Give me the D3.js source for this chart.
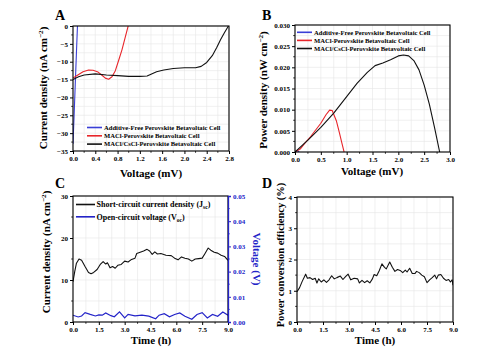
<!DOCTYPE html>
<html>
<head>
<meta charset="utf-8">
<script src="https://cdn.jsdelivr.net/npm/d3@7"></script>
<style>
  body { margin: 0; background: #fff; }
  text { font-family: "Liberation Serif", "Times New Roman", serif; font-weight: bold; }
</style>
</head>
<body>
<div id="wrapper"></div>
<script>
// ---- data ----
const legendA = ["Additive-Free Perovskite Betavoltaic Cell", "MACl-Perovskite Betavoltaic Cell", "MACl/CsCl-Perovskite Betavoltaic Cell"];
const seriesColors = ["#3a3fd6", "#e8262b", "#111111"];

// J-V curves: [voltage mV, current density nA cm-2]
const jvFree = [[0, -33], [0.02, -25], [0.04, -16.5], [0.06, -8.2], [0.08, 0]];
const jvMACl = [[0, -14.6], [0.08, -13.8], [0.18, -12.8], [0.28, -12.3], [0.36, -12.4], [0.45, -12.9], [0.52, -13.8],
  [0.58, -14.6], [0.64, -14.9], [0.7, -14.2], [0.76, -12.5], [0.82, -9.6], [0.88, -6.6], [0.93, -3.6], [0.99, 0]];
const jvCsCl = [[0, -15], [0.1, -14.2], [0.2, -13.7], [0.4, -13.4], [0.6, -13.7], [0.8, -13.9], [1.0, -14.1], [1.2, -14.1],
  [1.33, -14.0], [1.4, -13.5], [1.5, -12.8], [1.63, -12.3], [1.8, -11.9], [2.0, -11.7], [2.2, -11.7], [2.3, -11.3],
  [2.4, -10.2], [2.5, -8.3], [2.58, -6.0], [2.65, -3.8], [2.72, -1.8], [2.79, 0]];

// P-V curves: [voltage mV, power density nW cm-2]
const pvFree = [[0, 0], [0.04, 0.0004], [0.08, 0]];
const pvMACl = [[0, 0], [0.1, 0.0007], [0.2, 0.0022], [0.3, 0.0036], [0.4, 0.0052], [0.5, 0.0068], [0.6, 0.0088],
  [0.67, 0.0099], [0.72, 0.0098], [0.8, 0.0074], [0.86, 0.0045], [0.91, 0.002], [0.95, 0]];
const pvCsCl = [[0, 0], [0.25, 0.0028], [0.5, 0.0058], [0.75, 0.0092], [1.0, 0.0131], [1.2, 0.0162], [1.4, 0.0188],
  [1.55, 0.0204], [1.7, 0.021], [1.85, 0.0218], [2.0, 0.0227], [2.1, 0.0229], [2.2, 0.0227], [2.3, 0.0216],
  [2.4, 0.0194], [2.5, 0.0158], [2.6, 0.0113], [2.7, 0.0058], [2.8, 0]];

// stability: [time h, Jsc nA cm-2]
const jscData = [[0, 9.6], [0.1, 12], [0.2, 14], [0.35, 15], [0.5, 14.7], [0.7, 13.2], [0.9, 11.8], [1.05, 11.5], [1.2, 11.8],
  [1.4, 12.5], [1.6, 13.8], [1.75, 14.4], [1.9, 13.8], [2.0, 14.1], [2.15, 12.9], [2.3, 13.2], [2.45, 12.8], [2.6, 13.5],
  [2.8, 13.7], [3.0, 14.5], [3.2, 14.3], [3.4, 14.9], [3.6, 15.2], [3.7, 16.3], [3.9, 16.6], [4.1, 16.9], [4.3, 17.3],
  [4.45, 16.9], [4.6, 16.1], [4.75, 16.7], [4.9, 16.2], [5.1, 16.3], [5.4, 15.9], [5.7, 15.8], [5.9, 15.2], [6.1, 14.8],
  [6.3, 15.5], [6.5, 15.2], [6.7, 15.0], [6.9, 14.5], [7.1, 15.0], [7.3, 15.1], [7.5, 15.2], [7.65, 16.2], [7.85, 17.6],
  [8.0, 17.1], [8.2, 16.6], [8.4, 16.4], [8.6, 15.9], [8.8, 15.6], [9.0, 14.7]];
// [time h, Voc V]
const vocData = [[0, 0.0027], [0.3, 0.002], [0.5, 0.0024], [0.7, 0.0037], [1.0, 0.003], [1.3, 0.0024], [1.5, 0.0028],
  [1.7, 0.0027], [1.9, 0.0036], [2.2, 0.0025], [2.4, 0.0021], [2.7, 0.004], [3.0, 0.0016], [3.2, 0.003], [3.6, 0.0024],
  [4.0, 0.0027], [4.4, 0.0023], [4.8, 0.0013], [5.0, 0.0027], [5.3, 0.0033], [5.6, 0.0021], [5.9, 0.003], [6.2, 0.0036],
  [6.5, 0.0023], [6.9, 0.0011], [7.2, 0.003], [7.5, 0.0037], [7.8, 0.0016], [8.1, 0.003], [8.4, 0.0023], [8.7, 0.004], [9.0, 0.0027]];
const legendC = ["Short-circuit current density (J", "Open-circuit voltage (V"];

// [time h, PCE %]
const pceData = [[0, 0.97], [0.15, 1.1], [0.3, 1.3], [0.5, 1.53], [0.6, 1.4], [0.75, 1.42], [0.9, 1.36], [1.05, 1.4], [1.15, 1.25],
  [1.25, 1.38], [1.4, 1.28], [1.55, 1.35], [1.7, 1.27], [1.85, 1.35], [2.0, 1.48], [2.15, 1.38], [2.3, 1.42], [2.5, 1.47],
  [2.65, 1.36], [2.8, 1.45], [2.95, 1.53], [3.1, 1.35], [3.3, 1.4], [3.5, 1.38], [3.6, 1.25], [3.75, 1.33], [3.9, 1.26],
  [4.05, 1.32], [4.2, 1.25], [4.35, 1.38], [4.45, 1.52], [4.6, 1.48], [4.75, 1.65], [4.9, 1.86], [5.05, 1.75], [5.15, 1.7],
  [5.35, 1.92], [5.5, 1.75], [5.65, 1.62], [5.8, 1.68], [5.95, 1.65], [6.1, 1.58], [6.25, 1.66], [6.35, 1.6], [6.5, 1.72],
  [6.65, 1.55], [6.8, 1.55], [6.9, 1.62], [7.05, 1.58], [7.2, 1.5], [7.35, 1.45], [7.5, 1.26], [7.65, 1.35], [7.8, 1.42],
  [7.95, 1.5], [8.05, 1.38], [8.15, 1.5], [8.3, 1.52], [8.45, 1.4], [8.6, 1.33], [8.75, 1.36], [8.85, 1.28], [8.95, 1.35], [9.0, 1.18]];

const xTicksV28 = [0, 0.4, 0.8, 1.2, 1.6, 2.0, 2.4, 2.8];
const yTicksJ = [0, -5, -10, -15, -20, -25, -30, -35];
const xTicksV3 = [0, 0.5, 1.0, 1.5, 2.0, 2.5, 3.0];
const yTicksP = [0, 0.005, 0.01, 0.015, 0.02, 0.025, 0.03];
const xTicksT = [0, 1.5, 3.0, 4.5, 6.0, 7.5, 9.0];
const yTicksJsc = [0, 10, 20, 30];
const yTicksVoc = [0, 0.01, 0.02, 0.03, 0.04, 0.05];
const yTicksPce = [0, 1, 2, 3, 4];

// ---- drawing ----
const svg = d3.select("#wrapper").append("svg")
  .attr("width", 492)
  .attr("height", 350);

const line = (x, y) => d3.line().x(d => x(d[0])).y(d => y(d[1]));

function panel(box, xDomain, yDomain, xTicks, yTicks, xFmt, yFmt, xMinor, yMinor) {
  const x = d3.scaleLinear().domain(xDomain).range([box.left, box.right]);
  const y = d3.scaleLinear().domain(yDomain).range([box.bottom, box.top]);
  const g = svg.append("g");

  // grid
  const grid = g.append("g").attr("stroke", "#e6e6e6").attr("stroke-width", 0.6);
  grid.selectAll(".gx").data(xMinor).join("line")
    .attr("x1", d => x(d)).attr("x2", d => x(d)).attr("y1", box.top).attr("y2", box.bottom);
  grid.selectAll(".gy").data(yMinor).join("line")
    .attr("y1", d => y(d)).attr("y2", d => y(d)).attr("x1", box.left).attr("x2", box.right);

  g.append("g")
    .attr("transform", `translate(0,${box.bottom})`)
    .call(d3.axisBottom(x).tickValues(xTicks).tickFormat(xFmt).tickSize(3).tickPadding(2))
    .call(a => a.select(".domain").remove())
    .selectAll("text").attr("font-size", 7).attr("font-family", "Liberation Serif").attr("font-weight", "bold");
  g.append("g")
    .attr("transform", `translate(${box.left},0)`)
    .call(d3.axisLeft(y).tickValues(yTicks).tickFormat(yFmt).tickSize(3).tickPadding(2))
    .call(a => a.select(".domain").remove())
    .selectAll("text").attr("font-size", 7).attr("font-family", "Liberation Serif").attr("font-weight", "bold");

  // minor ticks
  g.append("g").attr("stroke", "#000").attr("stroke-width", 0.8)
    .selectAll("line").data(xMinor.filter(v => !xTicks.includes(v))).join("line")
    .attr("x1", d => x(d)).attr("x2", d => x(d)).attr("y1", box.bottom).attr("y2", box.bottom + 1.8);
  g.append("g").attr("stroke", "#000").attr("stroke-width", 0.8)
    .selectAll("line").data(yMinor.filter(v => !yTicks.includes(v))).join("line")
    .attr("y1", d => y(d)).attr("y2", d => y(d)).attr("x1", box.left).attr("x2", box.left - 1.8);

  const clipId = "clip" + Math.round(box.left) + "_" + Math.round(box.top);
  svg.append("clipPath").attr("id", clipId).append("rect")
    .attr("x", box.left).attr("y", box.top)
    .attr("width", box.right - box.left).attr("height", box.bottom - box.top);
  const plot = g.append("g").attr("clip-path", `url(#${clipId})`);

  const frame = () => g.append("rect")
    .attr("x", box.left).attr("y", box.top)
    .attr("width", box.right - box.left).attr("height", box.bottom - box.top)
    .attr("fill", "none").attr("stroke", "#000").attr("stroke-width", 1.1);

  return { x, y, g, plot, frame };
}

function drawLines(p, list, colors, width) {
  list.forEach((data, i) => {
    p.plot.append("path")
      .datum(data)
      .attr("d", line(p.x, p.y))
      .attr("fill", "none")
      .attr("stroke", colors[i])
      .attr("stroke-width", width)
      .attr("stroke-linejoin", "round");
  });
}

function legend(x0, y0, dy, len, labels, colors, size) {
  labels.forEach((label, i) => {
    svg.append("line")
      .attr("x1", x0).attr("x2", x0 + len)
      .attr("y1", y0 + i * dy).attr("y2", y0 + i * dy)
      .attr("stroke", colors[i]).attr("stroke-width", 1.6);
    svg.append("text")
      .attr("x", x0 + len + 2).attr("y", y0 + i * dy + size * 0.35)
      .attr("font-size", size)
      .text(label);
  });
}

function ylabel(x, y, size, parts, color) {
  const t = svg.append("text")
    .attr("transform", `translate(${x},${y}) rotate(-90)`)
    .attr("text-anchor", "middle")
    .attr("font-size", size)
    .attr("fill", color || "#000");
  t.append("tspan").text(parts[0]);
  t.append("tspan").attr("dy", -4).attr("font-size", size * 0.65).text(parts[1]);
  t.append("tspan").attr("dy", 4).text(parts[2]);
  return t;
}

function xlabel(x, y, text) {
  svg.append("text").attr("x", x).attr("y", y)
    .attr("text-anchor", "middle").attr("font-size", 11).text(text);
}

function letter(x, y, text) {
  svg.append("text").attr("x", x).attr("y", y).attr("font-size", 14).text(text);
}

const f1 = d3.format(".1f");

// ---- A ----
const pA = panel({ left: 73, right: 229, top: 26, bottom: 151 }, [0, 2.8], [-35, 0],
  xTicksV28, yTicksJ, f1, d3.format("d"),
  d3.range(0, 2.81, 0.2).map(v => +v.toFixed(1)), d3.range(-35, 0.1, 2.5));
drawLines(pA, [jvFree, jvMACl, jvCsCl], seriesColors, 1.1);
pA.frame();
legend(87, 127.5, 8.3, 15, legendA, seriesColors, 6.6);
ylabel(47, 88, 11, ["Current density (nA cm", "\u22122", ")"]);
xlabel(151, 177, "Voltage (mV)");
letter(55, 20, "A");

// ---- B ----
const pB = panel({ left: 295, right: 450, top: 25, bottom: 152 }, [0, 3], [0, 0.03],
  xTicksV3, yTicksP, f1, d3.format(".3f"),
  d3.range(0, 3.01, 0.25).map(v => +v.toFixed(2)), d3.range(0, 0.0301, 0.0025).map(v => +v.toFixed(4)));
drawLines(pB, [pvFree, pvMACl, pvCsCl], seriesColors, 1.1);
pB.frame();
legend(297, 32.3, 8.1, 15, legendA, seriesColors, 6.6);
ylabel(267, 90, 11, ["Power density (nW cm", "\u22122", ")"]);
xlabel(372, 175, "Voltage (mV)");
letter(262, 20, "B");

// ---- C ----
const boxC = { left: 73, right: 228, top: 196, bottom: 322 };
const pC = panel(boxC, [0, 9], [0, 30],
  xTicksT, yTicksJsc, f1, d3.format("d"),
  d3.range(0, 9.01, 0.75).map(v => +v.toFixed(2)), d3.range(0, 30.1, 5));
const yVoc = d3.scaleLinear().domain([0, 0.05]).range([boxC.bottom, boxC.top]);
pC.plot.append("path").datum(vocData)
  .attr("d", line(pC.x, yVoc))
  .attr("fill", "none").attr("stroke", "#2323c8").attr("stroke-width", 1.2);
drawLines(pC, [jscData], ["#111"], 1.1);
pC.frame();
const rightAxis = svg.append("g")
  .attr("transform", `translate(${boxC.right},0)`)
  .call(d3.axisRight(yVoc).tickValues(yTicksVoc).tickFormat(d3.format(".2f")).tickSize(3).tickPadding(2));
rightAxis.select(".domain").attr("stroke", "#2323c8").attr("stroke-width", 1.3);
rightAxis.selectAll("line").attr("stroke", "#2323c8");
rightAxis.selectAll("text").attr("fill", "#2323c8").attr("font-size", 7)
  .attr("font-family", "Liberation Serif").attr("font-weight", "bold");
svg.append("g").attr("stroke", "#2323c8").attr("stroke-width", 0.8)
  .selectAll("line").data([0.005, 0.015, 0.025, 0.035, 0.045]).join("line")
  .attr("y1", d => yVoc(d)).attr("y2", d => yVoc(d)).attr("x1", boxC.right).attr("x2", boxC.right + 1.8);

// legend C with subscripts
legendC.forEach((label, i) => {
  const yy = 204.5 + i * 12.3;
  svg.append("line").attr("x1", 76).attr("x2", 95).attr("y1", yy).attr("y2", yy)
    .attr("stroke", i === 0 ? "#111" : "#2323c8").attr("stroke-width", 1.6);
  const t = svg.append("text").attr("x", 96.5).attr("y", yy + 2.8).attr("font-size", 8);
  t.append("tspan").text(label);
  t.append("tspan").attr("dy", 2).attr("font-size", 5.5).text(i === 0 ? "sc" : "oc");
  t.append("tspan").attr("dy", -2).text(")");
});
ylabel(50, 252, 11, ["Current density (nA cm", "\u22122", ")"]);
svg.append("text")
  .attr("transform", `translate(253,259) rotate(90)`)
  .attr("text-anchor", "middle").attr("font-size", 11).attr("fill", "#2323c8")
  .text("Voltage (V)");
xlabel(151, 344, "Time (h)");
letter(55, 188, "C");

// ---- D ----
const pD = panel({ left: 297, right: 453, top: 197, bottom: 322 }, [0, 9], [0, 4],
  xTicksT, yTicksPce, f1, d3.format("d"),
  d3.range(0, 9.01, 0.75).map(v => +v.toFixed(2)), d3.range(0, 4.01, 0.5));
drawLines(pD, [pceData], ["#111"], 1.1);
pD.frame();
ylabel(284, 255, 10.5, ["Power conversion efficiency (%)", "", ""]);
xlabel(375, 344, "Time (h)");
letter(262, 188, "D");
</script>
</body>
</html>
